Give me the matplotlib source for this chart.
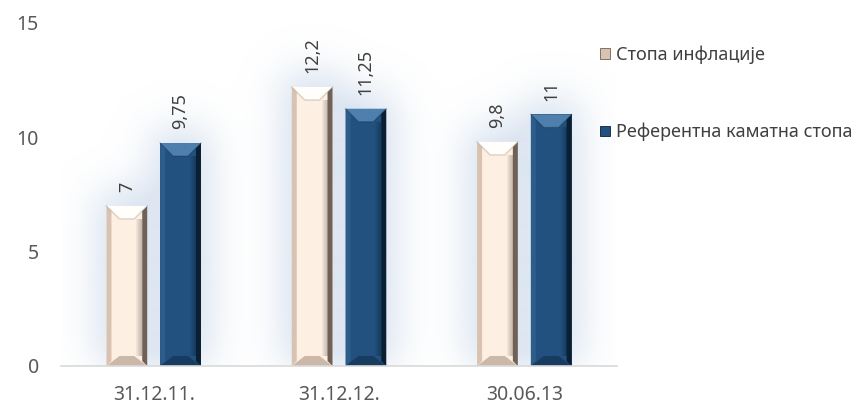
import numpy as np
import matplotlib.pyplot as plt
from matplotlib.patches import Polygon, Patch
from matplotlib.colors import to_rgb

plt.rcParams['font.family'] = ['Noto Sans', 'DejaVu Sans']

dates = ['31.12.11.', '31.12.12.', '30.06.13']
inflation = [7, 12.2, 9.8]
key_rate = [9.75, 11.25, 11]
series_names = ['Стопа инфлације', 'Референтна каматна стопа']

# body, left edge, right edge, top bevel, bottom bevel
cream = ['#fdefe2', '#d8c3b2', '#6f6158', '#fffefb', '#cbb8a8']
navy = ['#22517f', '#2d5d8a', '#0b1f33', '#4f80ad', '#173c60']

fig = plt.figure(figsize=(8.56, 4.05), dpi=100)
ax = fig.add_axes([0.0713, 0.0963, 0.6495, 0.847])
ax.set_xlim(-0.5, 2.5)
ax.set_ylim(0, 15)

x = np.arange(len(dates))
w = 0.22
off = 0.145

bars1 = ax.bar(x - off, inflation, w, color=cream[0], zorder=3)
bars2 = ax.bar(x + off, key_rate, w, color=navy[0], zorder=3)

# soft halo behind the bars
H, W = 343, 556
gx = np.linspace(-0.5, 2.5, W)
gy = np.linspace(0, 15, H)
mask = np.zeros((H, W))
for b in list(bars1) + list(bars2):
    x0, x1 = b.get_x(), b.get_x() + b.get_width()
    top = b.get_height()
    mask[np.ix_((gy <= top + 0.6), (gx >= x0 - 0.04) & (gx <= x1 + 0.04))] = 1


def blur(a, sigma):
    r = int(3 * sigma)
    k = np.exp(-0.5 * (np.arange(-r, r + 1) / sigma) ** 2)
    k /= k.sum()
    a = np.apply_along_axis(lambda v: np.convolve(v, k, mode='same'), 0, a)
    a = np.apply_along_axis(lambda v: np.convolve(v, k, mode='same'), 1, a)
    return a


glow = blur(np.pad(mask, 80, mode='constant'), 20)[80:-80, 80:-80]
rgba = np.zeros((H, W, 4))
rgba[..., :3] = to_rgb('#cfdcec')
rgba[..., 3] = np.clip(glow * 0.9, 0, 0.7)
ax.imshow(rgba, extent=(-0.5, 2.5, 0, 15), origin='lower', aspect='auto',
          zorder=1, interpolation='bilinear')

# bevel sizes in pixels converted to data units
px = 3 / 556          # x units per pixel
py = 15 / 343         # y units per pixel
side = 5
ins, dtop, dbot = 13, 13, 10

for bars, pal in ((bars1, cream), (bars2, navy)):
    for b in bars:
        x0, x1 = b.get_x(), b.get_x() + b.get_width()
        y0, y1 = 0, b.get_height()
        faces = [
            ([(x0, y1), (x0 + side * px, y1 - side * py),
              (x0 + side * px, y0 + side * py), (x0, y0)], pal[1]),
            ([(x1, y1), (x1 - side * px, y1 - side * py),
              (x1 - side * px, y0 + side * py), (x1, y0)], pal[2]),
            ([(x0, y1), (x1, y1), (x1 - ins * px, y1 - dtop * py),
              (x0 + ins * px, y1 - dtop * py)], pal[3]),
            ([(x0, y0), (x1, y0), (x1 - ins * px, y0 + dbot * py),
              (x0 + ins * px, y0 + dbot * py)], pal[4]),
        ]
        for pts, c in faces:
            ax.add_patch(Polygon(pts, closed=True, facecolor=c, edgecolor='none',
                                 zorder=4))
        # darker tint along the diagonal edges of the top face
        ax.plot([x0, x0 + ins * px, x1 - ins * px, x1],
                [y1, y1 - dtop * py, y1 - dtop * py, y1],
                color=pal[2], alpha=0.25, lw=1, zorder=4)
        # shading toward the right edge
        for i in range(6):
            xl = x1 - side * px - (6 - i) * px
            ax.add_patch(Polygon([(xl, y1 - dtop * py), (x1 - side * px, y1 - dtop * py),
                                  (x1 - side * px, y0 + dbot * py), (xl, y0 + dbot * py)],
                                 facecolor=pal[2], alpha=0.07, edgecolor='none',
                                 zorder=4))
        v = b.get_height()
        ax.annotate(f'{v:g}'.replace('.', ','), (b.get_x() + b.get_width() / 2, v),
                    xytext=(0, 10), textcoords='offset points', rotation=90,
                    ha='center', va='bottom', fontsize=13, color='#404040',
                    zorder=5)

for s in ('left', 'right', 'top'):
    ax.spines[s].set_visible(False)
ax.spines['bottom'].set_color('#d9d9d9')
ax.spines['bottom'].set_linewidth(1.2)
ax.spines['bottom'].set_zorder(6)

ax.set_xticks(x, dates)
ax.set_yticks([0, 5, 10, 15])
ax.tick_params(axis='both', length=0, labelsize=14, colors='#595959')
ax.tick_params(axis='y', pad=16)
ax.tick_params(axis='x', pad=14)

handles = [Patch(facecolor=cream[1], edgecolor=cream[2], linewidth=0.6),
           Patch(facecolor=navy[0], edgecolor=navy[2], linewidth=0.6)]
fig.legend(handles, series_names, loc='upper left', bbox_to_anchor=(0.693, 0.905),
           frameon=False, fontsize=13, labelcolor='#404040', handlelength=0.55,
           handleheight=0.55, handletextpad=0.3, labelspacing=3.25,
           borderaxespad=0)

fig.savefig('out.png', dpi=100)
